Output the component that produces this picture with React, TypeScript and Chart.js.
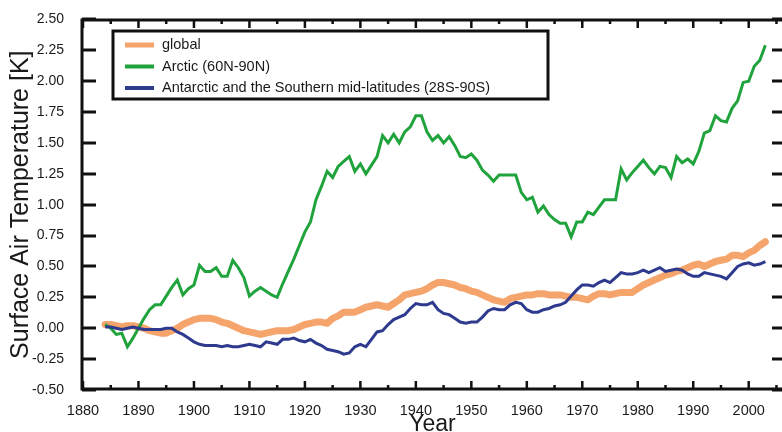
import { useEffect, useRef } from 'react';
import { Chart, registerables } from 'chart.js';

Chart.register(...registerables);

const FIRST_YEAR = 1884;
const LAST_YEAR = 2003;
const YEARS: number[] = [];
for (let yr = FIRST_YEAR; yr <= LAST_YEAR; yr++) YEARS.push(yr);

const SERIES_LABELS = [
  'global',
  'Arctic (60N-90N)',
  'Antarctic and the Southern mid-latitudes (28S-90S)',
];

const GLOBAL = [
  0.03, 0.03, 0.02, 0.01, 0.02, 0.02,
  0.01, 0.00, -0.02, -0.03, -0.04, -0.04, -0.02, 0.00, 0.03, 0.05,
  0.07, 0.08, 0.08, 0.08, 0.07, 0.05, 0.04, 0.02, 0.00, -0.02,
  -0.03, -0.04, -0.05, -0.04, -0.03, -0.02, -0.02, -0.02, -0.01, 0.01,
  0.03, 0.04, 0.05, 0.05, 0.04, 0.08, 0.10, 0.13, 0.13, 0.13,
  0.15, 0.17, 0.18, 0.19, 0.18, 0.17, 0.20, 0.23, 0.27, 0.28,
  0.29, 0.30, 0.32, 0.35, 0.37, 0.37, 0.36, 0.35, 0.33, 0.32,
  0.30, 0.29, 0.27, 0.25, 0.23, 0.22, 0.21, 0.24, 0.25, 0.26,
  0.27, 0.27, 0.28, 0.28, 0.27, 0.27, 0.27, 0.26, 0.25, 0.25,
  0.24, 0.23, 0.26, 0.28, 0.28, 0.27, 0.28, 0.29, 0.29, 0.29,
  0.32, 0.35, 0.37, 0.39, 0.41, 0.43, 0.44, 0.46, 0.47, 0.49,
  0.51, 0.52, 0.50, 0.52, 0.54, 0.55, 0.56, 0.59, 0.59, 0.58,
  0.61, 0.63, 0.67, 0.70,
];

const ARCTIC = [
  0.03, 0.00, -0.05, -0.04, -0.15, -0.08,
  0.00, 0.08, 0.15, 0.19, 0.19, 0.26, 0.33, 0.39, 0.27, 0.32,
  0.35, 0.51, 0.46, 0.46, 0.49, 0.42, 0.42, 0.55, 0.49, 0.41,
  0.26, 0.30, 0.33, 0.30, 0.27, 0.25, 0.36, 0.46, 0.56, 0.67,
  0.78, 0.86, 1.04, 1.15, 1.27, 1.22, 1.31, 1.35, 1.39, 1.27,
  1.33, 1.25, 1.32, 1.39, 1.56, 1.50, 1.57, 1.50, 1.59, 1.63,
  1.72, 1.72, 1.59, 1.52, 1.56, 1.50, 1.55, 1.48, 1.39, 1.38,
  1.41, 1.36, 1.28, 1.24, 1.19, 1.24, 1.24, 1.24, 1.24, 1.10,
  1.04, 1.06, 0.94, 0.99, 0.92, 0.88, 0.85, 0.85, 0.74, 0.86,
  0.86, 0.94, 0.92, 0.98, 1.04, 1.04, 1.04, 1.29, 1.20, 1.26,
  1.31, 1.36, 1.30, 1.25, 1.31, 1.30, 1.22, 1.39, 1.34, 1.37,
  1.33, 1.43, 1.58, 1.60, 1.72, 1.68, 1.67, 1.78, 1.84, 1.99,
  2.00, 2.12, 2.17, 2.29,
];

const ANTARCTIC = [
  0.01, 0.01, 0.00, -0.01, 0.00, 0.01,
  0.00, -0.01, -0.01, -0.01, -0.01, 0.00, 0.00, -0.03, -0.05, -0.08,
  -0.11, -0.13, -0.14, -0.14, -0.14, -0.15, -0.14, -0.15, -0.15, -0.14,
  -0.13, -0.14, -0.15, -0.11, -0.12, -0.13, -0.09, -0.09, -0.08, -0.10,
  -0.11, -0.09, -0.12, -0.14, -0.17, -0.18, -0.19, -0.21, -0.20, -0.15,
  -0.13, -0.15, -0.09, -0.03, -0.02, 0.03, 0.07, 0.09, 0.11, 0.16,
  0.20, 0.19, 0.19, 0.21, 0.15, 0.12, 0.11, 0.08, 0.05, 0.04,
  0.05, 0.05, 0.09, 0.14, 0.16, 0.15, 0.15, 0.19, 0.21, 0.20,
  0.15, 0.13, 0.13, 0.15, 0.16, 0.18, 0.19, 0.21, 0.26, 0.31,
  0.35, 0.35, 0.34, 0.37, 0.39, 0.37, 0.41, 0.45, 0.44, 0.44,
  0.45, 0.47, 0.45, 0.47, 0.49, 0.46, 0.47, 0.48, 0.47, 0.44,
  0.42, 0.42, 0.45, 0.44, 0.43, 0.42, 0.40, 0.45, 0.50, 0.52,
  0.53, 0.51, 0.52, 0.54,
];

const X_TICKS = [1880, 1890, 1900, 1910, 1920, 1930, 1940, 1950, 1960, 1970, 1980, 1990, 2000];
const X_MINOR = [1885, 1895, 1905, 1915, 1925, 1935, 1945, 1955, 1965, 1975, 1985, 1995, 2005];
const Y_TICKS = [-0.5, -0.25, 0, 0.25, 0.5, 0.75, 1, 1.25, 1.5, 1.75, 2, 2.25, 2.5];

const FONT = "'Liberation Sans', Arial, sans-serif";

const framePlugin = {
  id: 'frame',
  afterDatasetsDraw(chart: any) {
    const { ctx, chartArea: a, scales } = chart;
    const xs = scales.x;
    const ys = scales.y;
    const leftX = a.left - 1;
    const botY = a.bottom - 1;
    const topY = a.top + 0.5;
    const W = chart.width;
    ctx.save();
    ctx.strokeStyle = '#111';
    ctx.lineCap = 'butt';
    ctx.lineWidth = 3;
    ctx.beginPath();
    ctx.moveTo(leftX, topY - 1.5);
    ctx.lineTo(leftX, botY + 1.5);
    ctx.moveTo(leftX - 1.5, botY);
    ctx.lineTo(W, botY);
    ctx.moveTo(leftX - 1.5, topY);
    ctx.lineTo(W, topY);
    ctx.stroke();
    ctx.lineWidth = 3;
    ctx.beginPath();
    for (const v of Y_TICKS) {
      const py = Math.round(ys.getPixelForValue(v));
      ctx.moveTo(leftX, py);
      ctx.lineTo(leftX + 14, py);
      ctx.moveTo(W - 10, py);
      ctx.lineTo(W, py);
    }
    ctx.stroke();
    ctx.lineWidth = 2.5;
    ctx.beginPath();
    for (const v of X_TICKS) {
      const px = xs.getPixelForValue(v);
      ctx.moveTo(px, botY);
      ctx.lineTo(px, botY - 8);
      ctx.moveTo(px, topY);
      ctx.lineTo(px, topY + 8);
    }
    for (const v of X_MINOR) {
      const px = xs.getPixelForValue(v);
      ctx.moveTo(px, botY);
      ctx.lineTo(px, botY - 4);
      ctx.moveTo(px, topY);
      ctx.lineTo(px, topY + 4);
    }
    ctx.stroke();
    ctx.restore();
  },
  afterDraw(chart: any) {
    const { ctx } = chart;
    ctx.save();
    ctx.fillStyle = '#fff';
    ctx.fillRect(113, 31, 435, 68);
    ctx.strokeStyle = '#111';
    ctx.lineWidth = 3;
    ctx.strokeRect(113, 31, 435, 68);
    const rows = [45, 66.5, 88];
    chart.data.datasets.forEach((ds: any, i: number) => {
      const yy = rows[i];
      ctx.strokeStyle = ds.borderColor;
      ctx.lineWidth = i === 0 ? 5 : 4;
      ctx.beginPath();
      ctx.moveTo(125, yy);
      ctx.lineTo(154, yy);
      ctx.stroke();
      ctx.fillStyle = '#1a1a1a';
      ctx.font = `14.5px ${FONT}`;
      ctx.textBaseline = 'middle';
      ctx.textAlign = 'left';
      ctx.fillText(ds.label, 162, yy);
    });
    ctx.restore();
  },
};

export default function App() {
  const ref = useRef<HTMLCanvasElement | null>(null);
  useEffect(() => {
    if (!ref.current) return;
    const mk = (vals: number[]) => YEARS.map((x, i) => ({ x, y: vals[i] }));
    const chart = new Chart(ref.current, {
      type: 'line',
      data: {
        datasets: [
          {
            label: SERIES_LABELS[0],
            data: mk(GLOBAL),
            borderColor: '#F5A46C',
            borderWidth: 7,
            pointRadius: 0,
            tension: 0,
            order: 3,
            borderJoinStyle: 'round',
            borderCapStyle: 'round',
          },
          {
            label: SERIES_LABELS[1],
            data: mk(ARCTIC),
            borderColor: '#20A33C',
            borderWidth: 3,
            pointRadius: 0,
            tension: 0,
            order: 2,
          },
          {
            label: SERIES_LABELS[2],
            data: mk(ANTARCTIC),
            borderColor: '#2E3A8E',
            borderWidth: 3,
            pointRadius: 0,
            tension: 0,
            order: 1,
          },
        ],
      },
      options: {
        animation: false,
        responsive: false,
        devicePixelRatio: 1,
        layout: { padding: { left: 0, right: 0, top: 15, bottom: 0 } },
        plugins: { legend: { display: false }, tooltip: { enabled: false } },
        scales: {
          x: {
            type: 'linear',
            min: 1880,
            max: 2006,
            grid: { display: false },
            border: { display: false },
            afterBuildTicks: (s: any) => {
              s.ticks = X_TICKS.map((v) => ({ value: v }));
            },
            afterFit: (s: any) => {
              s.height = 42;
            },
            ticks: {
              autoSkip: false,
              maxRotation: 0,
              padding: 4,
              color: '#1a1a1a',
              font: { family: FONT, size: 14.5 },
              callback: (v: any) => String(v),
            },
            title: {
              display: true,
              text: 'Year',
              color: '#1a1a1a',
              font: { family: FONT, size: 23, lineHeight: 0.6 },
              padding: 0,
            },
          },
          y: {
            type: 'linear',
            min: -0.5,
            max: 2.5,
            grid: { display: false },
            border: { display: false },
            afterBuildTicks: (s: any) => {
              s.ticks = Y_TICKS.map((v) => ({ value: v }));
            },
            afterFit: (s: any) => {
              s.width = 83;
            },
            ticks: {
              padding: 11,
              color: '#1a1a1a',
              font: { family: FONT, size: 14 },
              callback: (v: any) => Number(v).toFixed(2),
            },
            title: {
              display: true,
              text: 'Surface Air Temperature [K]',
              color: '#1a1a1a',
              font: { family: FONT, size: 25, lineHeight: 1 },
              padding: { top: 9, bottom: 0 },
            },
          },
        },
      },
      plugins: [framePlugin],
    });
    return () => chart.destroy();
  }, []);
  return (
    <div style={{ position: 'fixed', left: 0, top: 0, width: 782, height: 432, background: '#fff' }}>
      <canvas ref={ref} width={782} height={432} />
    </div>
  );
}
